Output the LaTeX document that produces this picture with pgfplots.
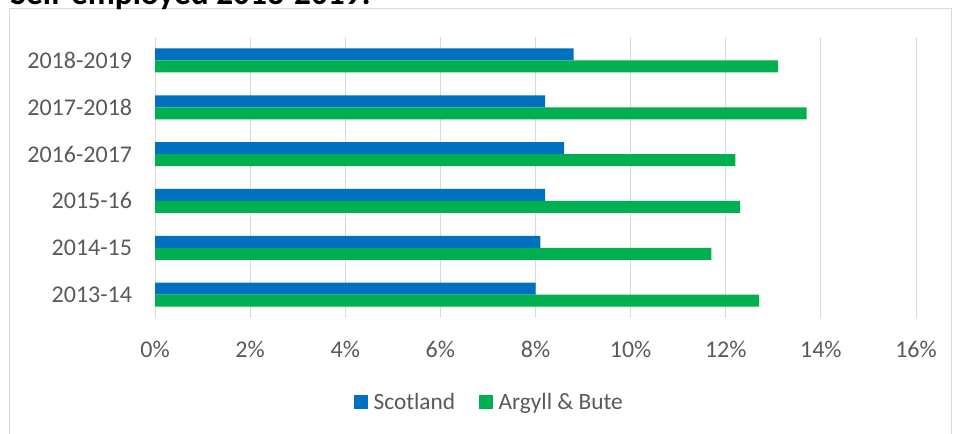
\documentclass[border=0pt]{standalone}
\usepackage{fontspec}
\setmainfont{Carlito}
\usepackage{pgfplots}
\usepackage{pgfplotstable}
\pgfplotsset{compat=1.18}
\definecolor{scot}{HTML}{0070C0}
\definecolor{argyll}{HTML}{00B050}
\definecolor{txt}{HTML}{595959}
\definecolor{gridc}{HTML}{D9D9D9}
\pgfplotstableread{
y scot arg
0 8.0 12.7
1 8.1 11.7
2 8.2 12.3
3 8.6 12.2
4 8.2 13.7
5 8.8 13.1
}\data
\begin{document}
\begin{tikzpicture}
\useasboundingbox (0pt,0pt) rectangle (714.75pt,-325.5pt);
\draw[gridc, line width=0.75pt] (6.75pt,-330pt) -- (6.75pt,-6.75pt) -- (713.25pt,-6.75pt) -- (713.25pt,-330pt);
\node[anchor=base west, inner sep=0pt, font=\fontsize{25}{30}\selectfont\bfseries] at (7.5pt,-3.75pt) {Self-employed 2013-2019:};
\begin{axis}[
  at={(116.25pt,-238.5pt)}, anchor=south west,
  scale only axis, width=570.75pt, height=210.75pt,
  xbar, bar width=9pt,
  xmin=0, xmax=16, ymin=-0.5, ymax=5.5,
  enlargelimits=false,
  ytick={0,...,5},
  yticklabels={2013-14,2014-15,2015-16,2016-2017,2017-2018,2018-2019},
  xtick={0,2,...,16},
  xticklabel={\pgfmathprintnumber{\tick}\%},
  /pgf/number format/assume math mode=true,
  axis line style={draw=none},
  major tick length=0pt,
  xmajorgrids, major grid style={gridc, line width=0.75pt},
  xticklabel style={inner sep=0pt, yshift=-17pt, font=\fontsize{18}{21}\selectfont, text=txt},
  yticklabel style={inner sep=0pt, xshift=-17pt, font=\fontsize{18}{21}\selectfont, text=txt},
  legend style={at={(0.44,-0.3)}, anchor=center, draw=none, legend columns=2,
    font=\fontsize{17.5}{20}\selectfont, text=txt, /tikz/every even column/.append style={column sep=16pt}},
  legend image code/.code={\fill[#1] (0pt,-5.25pt) rectangle (10.5pt,5.25pt); \path (12.5pt,0pt);},
]
\addplot[fill=scot, draw=none, bar shift=4.5pt] table[x=scot, y=y] {\data};
\addlegendentry{Scotland}
\addplot[fill=argyll, draw=none, bar shift=-4.5pt] table[x=arg, y=y] {\data};
\addlegendentry{Argyll \& Bute}
\end{axis}
\end{tikzpicture}
\end{document}
